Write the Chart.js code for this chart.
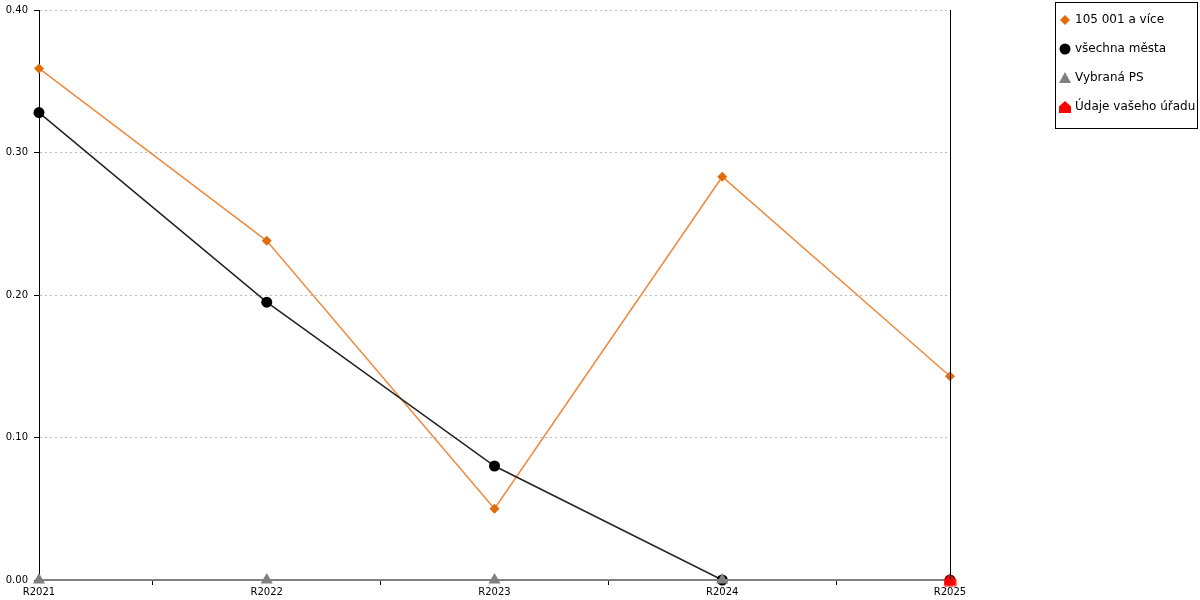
<!DOCTYPE html>
<html>
<head>
<meta charset="utf-8">
<script src="https://cdn.jsdelivr.net/npm/chart.js@4/dist/chart.umd.min.js"></script>
<style>
  body { margin: 0; background: #fff; }
  #wrap { width: 1200px; height: 600px; }
</style>
</head>
<body>
<div id="wrap"><canvas id="chart" width="1200" height="600"></canvas></div>
<script>
// data
const categories = ['R2021', 'R2022', 'R2023', 'R2024', 'R2025'];
const bigCities = [0.359, 0.238, 0.05, 0.283, 0.143];   // 105 001 a více
const allCities = [0.328, 0.195, 0.08, 0, 0];           // všechna města
const selectedPS = [0, 0, 0, 0, 0];                     // Vybraná PS
const yourOffice = [null, null, null, null, 0];         // Údaje vašeho úřadu
const yTicks = [0, 0.1, 0.2, 0.3, 0.4];

const FONT = 'DejaVu Sans';

// red "house" marker
function houseShape(ctx, cx, cy, s) {
  ctx.beginPath();
  ctx.moveTo(cx - s, cy + s);
  ctx.lineTo(cx - s, cy - s * 0.1);
  ctx.lineTo(cx, cy - s);
  ctx.lineTo(cx + s, cy - s * 0.1);
  ctx.lineTo(cx + s, cy + s);
  ctx.closePath();
  ctx.fillStyle = '#ff0000';
  ctx.fill();
}
const houseImg = document.createElement('canvas');
houseImg.width = 13;
houseImg.height = 13;
houseShape(houseImg.getContext('2d'), 6.5, 6.5, 6);

const legendItems = [
  { text: '105 001 a více', shape: 'diamond', color: '#e36c0a' },
  { text: 'všechna města', shape: 'circle', color: '#000000' },
  { text: 'Vybraná PS', shape: 'triangle', color: '#808080' },
  { text: 'Údaje vašeho úřadu', shape: 'house', color: '#ff0000' }
];

const framePlugin = {
  id: 'frame',
  afterDraw(chart) {
    const ctx = chart.ctx;
    const area = chart.chartArea;
    ctx.save();
    // right border line
    ctx.strokeStyle = '#000';
    ctx.lineWidth = 1;
    ctx.beginPath();
    ctx.moveTo(Math.round(area.right) + 0.5, area.top);
    ctx.lineTo(Math.round(area.right) + 0.5, area.bottom);
    ctx.stroke();

    // legend box
    ctx.strokeRect(1055.5, 2.5, 142, 126);
    ctx.font = '12px "' + FONT + '"';
    ctx.textBaseline = 'middle';
    ctx.textAlign = 'left';
    legendItems.forEach((item, i) => {
      const y = 20 + i * 29;
      const x = 1065;
      ctx.fillStyle = item.color;
      ctx.beginPath();
      if (item.shape === 'diamond') {
        ctx.moveTo(x, y - 5); ctx.lineTo(x + 5, y); ctx.lineTo(x, y + 5); ctx.lineTo(x - 5, y);
        ctx.closePath(); ctx.fill();
      } else if (item.shape === 'circle') {
        ctx.arc(x, y, 5.5, 0, Math.PI * 2); ctx.fill();
      } else if (item.shape === 'triangle') {
        ctx.moveTo(x, y - 6); ctx.lineTo(x + 6, y + 5); ctx.lineTo(x - 6, y + 5);
        ctx.closePath(); ctx.fill();
      } else {
        houseShape(ctx, x, y, 6);
      }
      ctx.fillStyle = '#000';
      ctx.fillText(item.text, 1075, y);
    });
    ctx.restore();
  }
};

const ctx = document.getElementById('chart').getContext('2d');

new Chart(ctx, {
  type: 'line',
  data: {
    labels: categories,
    datasets: [
      {
        label: 'Údaje vašeho úřadu',
        data: yourOffice,
        order: 0,
        clip: false,
        showLine: false,
        pointStyle: houseImg,
        pointRadius: 6,
        borderColor: '#ff0000',
        backgroundColor: '#ff0000'
      },
      {
        label: 'Vybraná PS',
        data: selectedPS,
        order: 1,
        clip: false,
        borderColor: '#808080',
        backgroundColor: '#808080',
        borderWidth: 2,
        pointStyle: 'triangle',
        pointRadius: 7,
        pointBorderWidth: 0
      },
      {
        label: 'všechna města',
        data: allCities,
        order: 2,
        clip: false,
        borderColor: '#222222',
        backgroundColor: '#000000',
        borderWidth: 1.5,
        pointStyle: 'circle',
        pointRadius: 5.5,
        pointBorderWidth: 0
      },
      {
        label: '105 001 a více',
        data: bigCities,
        order: 3,
        clip: false,
        borderColor: '#ef8a3c',
        backgroundColor: '#e36c0a',
        borderWidth: 1.5,
        pointStyle: 'rectRot',
        pointRadius: 5,
        pointBorderWidth: 0
      }
    ]
  },
  options: {
    responsive: false,
    animation: false,
    layout: { padding: { top: 10, right: 250, left: 0, bottom: 0 } },
    plugins: {
      legend: { display: false },
      tooltip: { enabled: false }
    },
    scales: {
      x: {
        offset: false,
        afterFit: (s) => { s.height = 20; },
        grid: {
          offset: true,
          drawOnChartArea: false,
          drawTicks: true,
          tickLength: 5,
          tickColor: '#000'
        },
        border: { color: '#808080', width: 2 },
        ticks: {
          color: '#000',
          font: { family: FONT, size: 10 },
          padding: 1,
          maxRotation: 0,
          autoSkip: false
        }
      },
      y: {
        min: 0,
        max: 0.4,
        afterFit: (s) => { s.width = 39; s.paddingTop = 0; s.paddingBottom = 0; },
        afterBuildTicks: (s) => { s.ticks = yTicks.map(v => ({ value: v })); },
        grid: {
          color: '#bbbbbb',
          tickColor: '#000',
          tickLength: 5,
          tickBorderDash: []
        },
        border: { color: '#000', width: 1, dash: [2, 3] },
        ticks: {
          color: '#000',
          font: { family: FONT, size: 10 },
          padding: 6,
          callback: (v) => Number(v).toFixed(2)
        }
      }
    }
  },
  plugins: [framePlugin]
});
</script>
</body>
</html>
